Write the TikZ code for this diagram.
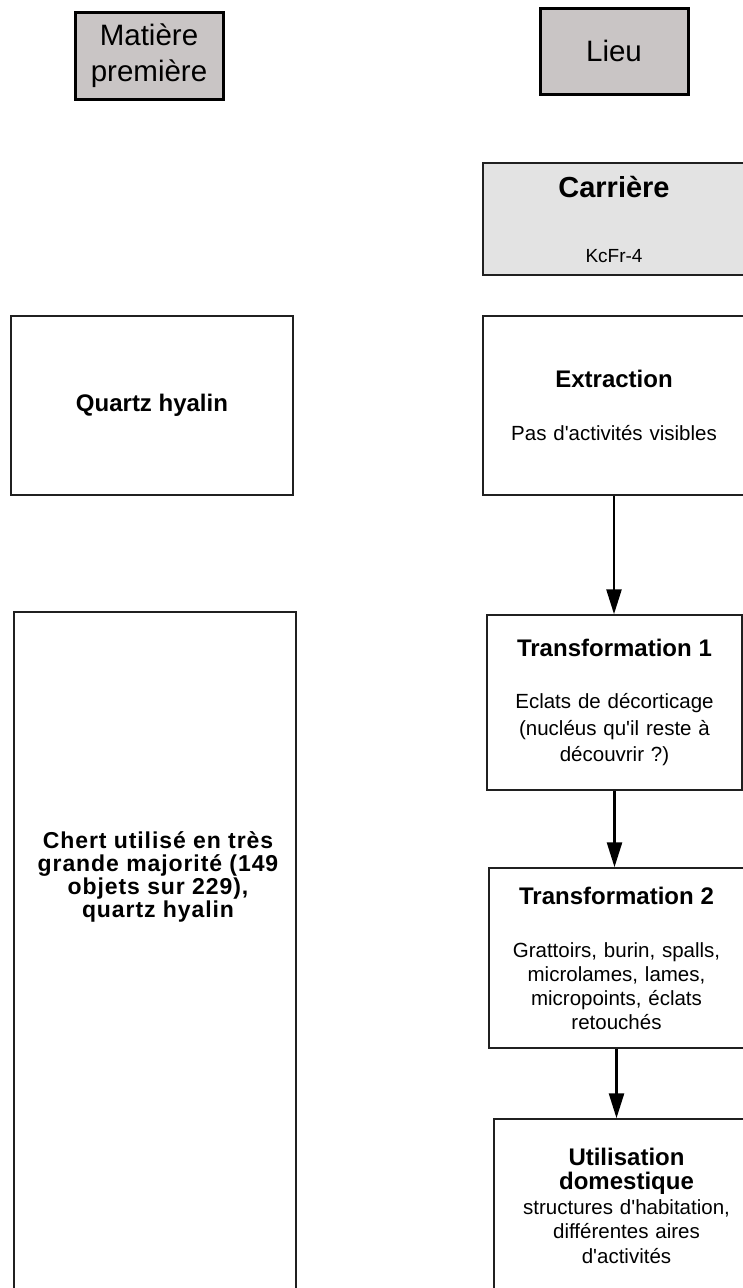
\documentclass[tikz,border=0pt]{standalone}
\usepackage{fontspec}
\setmainfont{Liberation Sans}
\setsansfont{Liberation Sans}
\usepackage{tikz}
\usetikzlibrary{arrows.meta}
\definecolor{headgray}{HTML}{C9C5C5}
\definecolor{quarrygray}{HTML}{E3E3E3}
\definecolor{boxline}{HTML}{202020}
\newcommand{\titre}[1]{{\fontsize{24}{24}\selectfont\bfseries #1}}
\newcommand{\apos}{\textquotesingle}

\tikzset{
  headbox/.style={draw=black, line width=3pt, fill=headgray, inner sep=0pt, align=center, font=\fontsize{29.5}{36}\selectfont},
  procbox/.style={draw=boxline, line width=1.5pt, inner sep=0pt, align=center},
  matbox/.style={draw=boxline, line width=1.8pt, inner sep=0pt, align=center},
  flow/.style={line width=2.6pt, -{Triangle[width=15pt,length=25pt]}}
}

\begin{document}
\begin{tikzpicture}[x=1pt, y=-1pt]
\useasboundingbox (0,0) rectangle (742,1288);

% en-tetes
\node[headbox, minimum width=148pt, minimum height=87pt] (matiere) at (149,55.5) {Matière\\première};
\node[headbox, minimum width=148pt, minimum height=86pt] (lieu) at (614,51) {Lieu};

% colonne matiere premiere
\node[matbox, minimum width=282pt, minimum height=179pt, font=\fontsize{24}{24}\selectfont\bfseries] (quartz) at (152,405.5) {Quartz hyalin};
\node[matbox, minimum width=282pt, minimum height=700pt] (chert) at (155,962) {};
\node[align=center, font=\fontsize{23}{23}\selectfont\bfseries\addfontfeature{LetterSpace=4}] (chertlbl) at (158,877) {Chert utilisé en très\\grande majorité (149\\objets sur 229),\\quartz hyalin};

% colonne lieu
\node[procbox, fill=quarrygray, minimum width=262pt, minimum height=112pt, text width=250pt, font=\fontsize{19}{24}\selectfont] (carriere) at (614,219) {{\fontsize{29}{29}\selectfont\bfseries Carrière}\\[41pt]KcFr-4};
\node[procbox, minimum width=262pt, minimum height=179pt, text width=250pt, font=\fontsize{20.5}{24}\selectfont] (extraction) at (614,405.5) {\titre{Extraction}\\[29pt]Pas d\apos activités visibles};
\node[procbox, minimum width=255pt, minimum height=175pt, text width=245pt, font=\fontsize{20.5}{26.5}\selectfont] (transfoA) at (614.5,702.5) {\titre{Transformation 1}\\[25.5pt]Eclats de décorticage\\(nucléus qu\apos il reste à\\découvrir ?)};
\node[procbox, minimum width=255pt, minimum height=180pt, text width=245pt, font=\fontsize{20.5}{24}\selectfont] (transfoB) at (616.5,958) {\titre{Transformation 2}\\[29pt]Grattoirs, burin, spalls,\\microlames, lames,\\micropoints, éclats\\retouchés};
\node[procbox, minimum width=265pt, minimum height=173pt, text width=255pt, font=\fontsize{20.5}{24.5}\selectfont] (usage) at (626.5,1205.5) {\titre{Utilisation}\\\titre{domestique}\\structures d\apos habitation,\\différentes aires\\d\apos activités};

% fleches
\draw[flow] (extraction.south) -- (extraction.south |- transfoA.north);
\draw[flow] (transfoA.south) -- (transfoA.south |- transfoB.north);
\draw[flow] (transfoB.south) -- (transfoB.south |- usage.north);
\end{tikzpicture}
\end{document}
